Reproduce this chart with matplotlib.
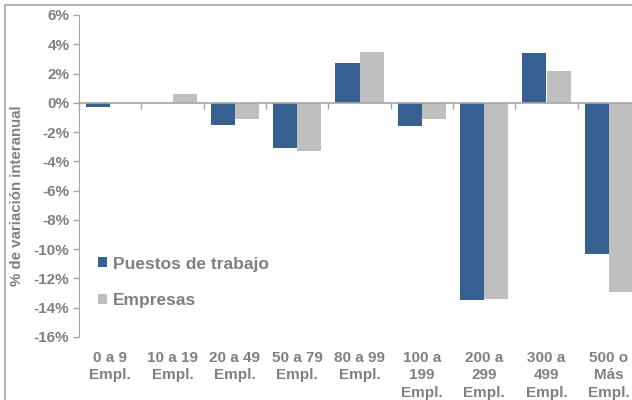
import numpy as np
import matplotlib.pyplot as plt
from matplotlib.patches import Rectangle

# Categories (company size) and year-on-year change (%)
categorias = ['0 a 9\nEmpl.', '10 a 19\nEmpl.', '20 a 49\nEmpl.', '50 a 79\nEmpl.',
              '80 a 99\nEmpl.', '100 a\n199\nEmpl.', '200 a\n299\nEmpl.',
              '300 a\n499\nEmpl.', '500 o\nMás\nEmpl.']
puestos = [-0.3, 0.0, -1.5, -3.1, 2.75, -1.6, -13.5, 3.4, -10.3]
empresas = [0.0, 0.6, -1.1, -3.3, 3.45, -1.1, -13.4, 2.15, -12.9]
yticks = list(range(-16, 7, 2))

azul = '#35608f'
gris = '#bfbfbf'
texto = '#808080'
linea = '#a6a6a6'

plt.rcParams['font.family'] = ['Liberation Sans', 'DejaVu Sans']
plt.rcParams['font.weight'] = 'bold'

fig = plt.figure(figsize=(6.32, 4.0), dpi=100)
ax = fig.add_axes([79 / 632, 63 / 400, 561 / 632, 322 / 400])

x = np.arange(len(categorias))
w = 0.39
ax.bar(x - w / 2, puestos, w, color=azul, label='Puestos de trabajo')
ax.bar(x + w / 2, empresas, w, color=gris, label='Empresas')

ax.set_xlim(-0.5, len(categorias) - 0.5)
ax.set_ylim(-16, 6)
ax.set_yticks(yticks)
ax.set_yticklabels([f'{v}%' for v in yticks], color=texto, fontsize=11, fontweight='bold')
ax.tick_params(axis='y', length=4, color=linea, width=1, pad=3)

# category axis crosses at 0, ticks between categories
for s in ['top', 'right']:
    ax.spines[s].set_visible(False)
ax.spines['left'].set_color(linea)
ax.spines['bottom'].set_position(('data', 0))
ax.spines['bottom'].set_color(linea)
ax.spines['bottom'].set_linewidth(1.2)
ax.set_xticks(np.arange(len(categorias) + 1) - 0.5)
ax.set_xticklabels([])
ax.tick_params(axis='x', length=4, color=linea, width=1, direction='out')

# category labels at the bottom of the plot
for xi, lab in zip(x, categorias):
    ax.text(xi, -0.042, lab, transform=ax.get_xaxis_transform(), ha='center', va='top',
            color=texto, fontsize=11, fontweight='bold', linespacing=1.36)

fig.text(17 / 632, 1 - 196 / 400, '% de variación interanual', rotation=90, ha='center',
         va='center', color=texto, fontsize=10.8, fontweight='bold')

leg = ax.legend(loc='upper left', bbox_to_anchor=(98 / 632, 1 - 256.5 / 400),
                bbox_transform=fig.transFigure, frameon=False, fontsize=12.5,
                handlelength=0.5, handleheight=0.5, handletextpad=0.35,
                labelspacing=1.25, borderpad=0, borderaxespad=0)
for t in leg.get_texts():
    t.set_color(texto)
    t.set_fontweight('bold')

# outer chart border
fig.patches.append(Rectangle((5 / 632, -0.1), 2, 1.1 - 5.5 / 400, transform=fig.transFigure,
                             fill=False, edgecolor=linea, linewidth=1.2))

fig.savefig('out.png', dpi=100)
